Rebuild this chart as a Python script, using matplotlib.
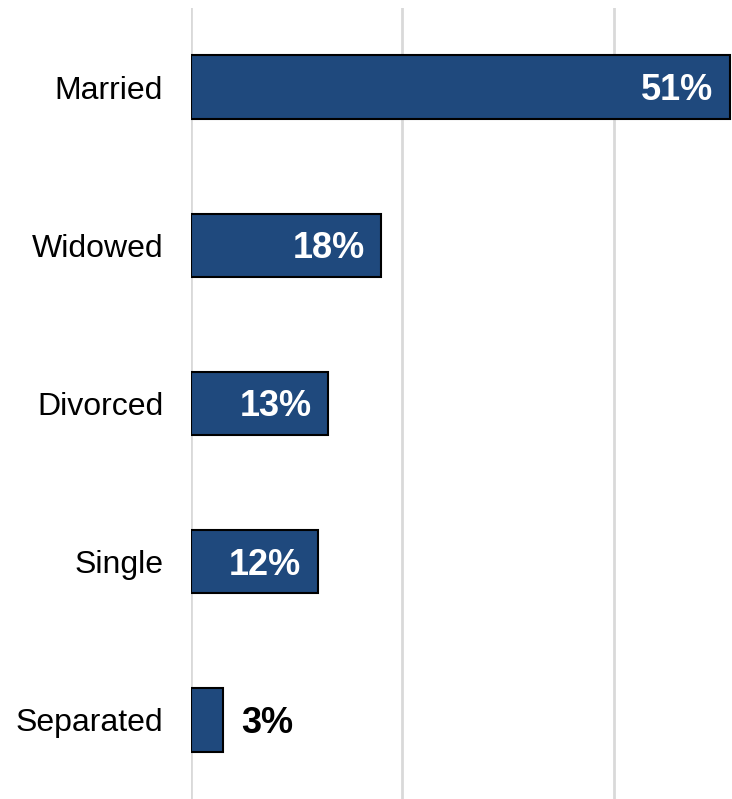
import matplotlib.pyplot as plt

plt.rcParams['font.family'] = ['Liberation Sans', 'DejaVu Sans']

# marital status shares
categories = ["Married", "Widowed", "Divorced", "Single", "Separated"]
values = [51, 18, 13, 12, 3]
labels = ["51%", "18%", "13%", "12%", "3%"]

fig = plt.figure(figsize=(7.32, 7.99), dpi=100)
ax = fig.add_axes([191 / 732, 0.0, 1 - 191 / 732, 1 - 8 / 799])

y = list(range(len(categories)))
ax.barh(y, values, height=0.4, color="#1f497d", edgecolor="black", linewidth=1.5, zorder=3)

for yi, v, lab in zip(y, values, labels):
    if v >= 10:
        ax.annotate(lab, (v, yi), xytext=(-12, -2.5), textcoords="offset points",
                    ha="right", va="center", color="white", fontsize=26,
                    fontweight="bold", zorder=4)
    else:
        ax.annotate(lab, (v, yi), xytext=(13, -2.5), textcoords="offset points",
                    ha="left", va="center", color="black", fontsize=26,
                    fontweight="bold", zorder=4)

ax.set_xlim(0, 51.2)
ax.set_ylim(len(categories) - 0.5, -0.5)
ax.set_xticks([0, 20, 40])
ax.set_xticklabels([])
ax.set_yticks(y)
ax.set_yticklabels(categories, fontsize=23)
ax.tick_params(axis="y", length=0, pad=20)
ax.tick_params(axis="x", length=0)
ax.grid(axis="x", color="#d9d9d9", linewidth=2, zorder=0)
for s in ax.spines.values():
    s.set_visible(False)

fig.savefig("out.png", dpi=100)
